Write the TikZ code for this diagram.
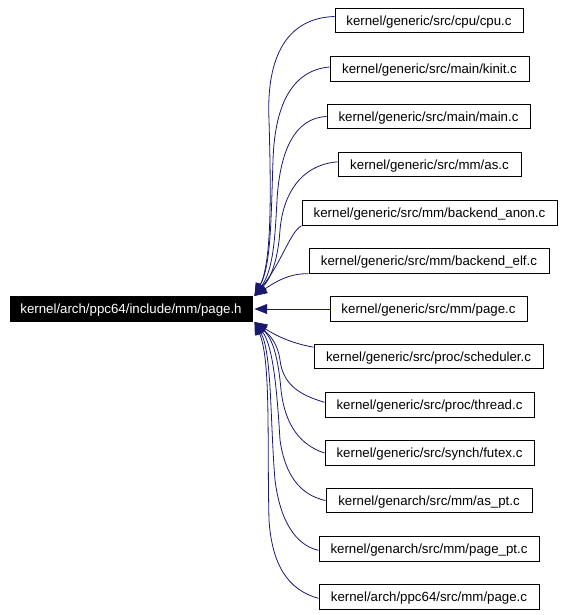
\documentclass[tikz,border=0pt]{standalone}
\usepackage{fontspec}
\setmainfont{Liberation Sans}
\usetikzlibrary{arrows.meta}
\definecolor{edgecol}{HTML}{191970}
\begin{document}
\begin{tikzpicture}[x=0.75pt,y=-0.75pt,
  file/.style={draw=black,line width=0.75pt,fill=white,inner sep=0pt,minimum height=18.4pt,text depth=0.3pt,font=\fontsize{9.95}{11}\selectfont,text=black},
  root/.style={file,fill=black,text=white},
  dep/.style={draw=edgecol,line width=0.6pt,-{Triangle[length=9.5pt,width=7.5pt]}}]
\useasboundingbox (0,0) rectangle (564,615);
\node[root,minimum width=181.5pt] (L) at (131,309) {kernel/arch/ppc64/include/mm/page.h};
\node[file,minimum width=141pt]    (cpu)    at (429,20.5)  {kernel/generic/src/cpu/cpu.c};
\node[file,minimum width=149.25pt] (kinit)  at (429.5,69)  {kernel/generic/src/main/kinit.c};
\node[file,minimum width=152.25pt] (main)   at (428.5,116.5) {kernel/generic/src/main/main.c};
\node[file,minimum width=137.25pt] (as)     at (429.5,164.5) {kernel/generic/src/mm/as.c};
\node[file,minimum width=191.25pt] (anon)   at (429.5,213) {kernel/generic/src/mm/backend\_anon.c};
\node[file,minimum width=180pt]    (elf)    at (429,261)   {kernel/generic/src/mm/backend\_elf.c};
\node[file,minimum width=147.75pt] (page)   at (428.5,309) {kernel/generic/src/mm/page.c};
\node[file,minimum width=171.75pt] (sched)  at (428.5,356.5) {kernel/generic/src/proc/scheduler.c};
\node[file,minimum width=156.75pt] (thread) at (429.5,405) {kernel/generic/src/proc/thread.c};
\node[file,minimum width=156.75pt] (futex)  at (429.5,453) {kernel/generic/src/synch/futex.c};
\node[file,minimum width=154.5pt]  (aspt)   at (429,500.5) {kernel/genarch/src/mm/as\_pt.c};
\node[file,minimum width=165pt]    (pagept) at (429,549)   {kernel/genarch/src/mm/page\_pt.c};
\node[file,minimum width=165pt]    (ppcpage) at (429,597)  {kernel/arch/ppc64/src/mm/page.c};
\coordinate (ht) at ([shift={(2,-13)}]L.east);
\coordinate (hm) at ([shift={(2,0)}]L.east);
\coordinate (hb) at ([shift={(2,13)}]L.east);
% upper edges
\draw[dep] ([yshift=3pt]cpu.west) .. controls (288,18) and (266,55) .. (269,120) .. controls (271,190) and (272,262) .. (ht);
\draw[dep] ([yshift=1.5pt]kinit.west) .. controls (295,70) and (275,100) .. (273,160) .. controls (271,220) and (271,265) .. (ht);
\draw[dep] (main.west) .. controls (295,118) and (280,150) .. (277,200) .. controls (275,240) and (273,270) .. (ht);
\draw[dep] ([yshift=2pt]as.west) .. controls (300,165) and (283,195) .. (280,230) .. controls (278,260) and (271,278) .. (ht);
\draw[dep] (anon.south west) .. controls (290,232) and (282,262) .. (ht);
\draw[dep] (elf.south west) .. controls (290,273) and (275,282) .. (ht);
% middle
\draw[dep] (page.west) -- (hm);
% lower edges
\draw[dep] ([yshift=7pt]sched.west) .. controls (290,343) and (275,335) .. (hb);
\draw[dep] ([yshift=2pt]thread.west) .. controls (300,395) and (283,385) .. (280,360) .. controls (278,345) and (271,336) .. (hb);
\draw[dep] (futex.west) .. controls (300,445) and (285,425) .. (281,390) .. controls (278,355) and (272,338) .. (hb);
\draw[dep] (aspt.west) .. controls (300,495) and (285,475) .. (280,440) .. controls (277,390) and (273,345) .. (hb);
\draw[dep] ([yshift=-1pt]pagept.west) .. controls (295,545) and (280,520) .. (275,480) .. controls (270,420) and (272,352) .. (hb);
\draw[dep] ([yshift=-1pt]ppcpage.west) .. controls (288,590) and (272,565) .. (269,520) .. controls (267,440) and (271,360) .. (hb);
\end{tikzpicture}
\end{document}
